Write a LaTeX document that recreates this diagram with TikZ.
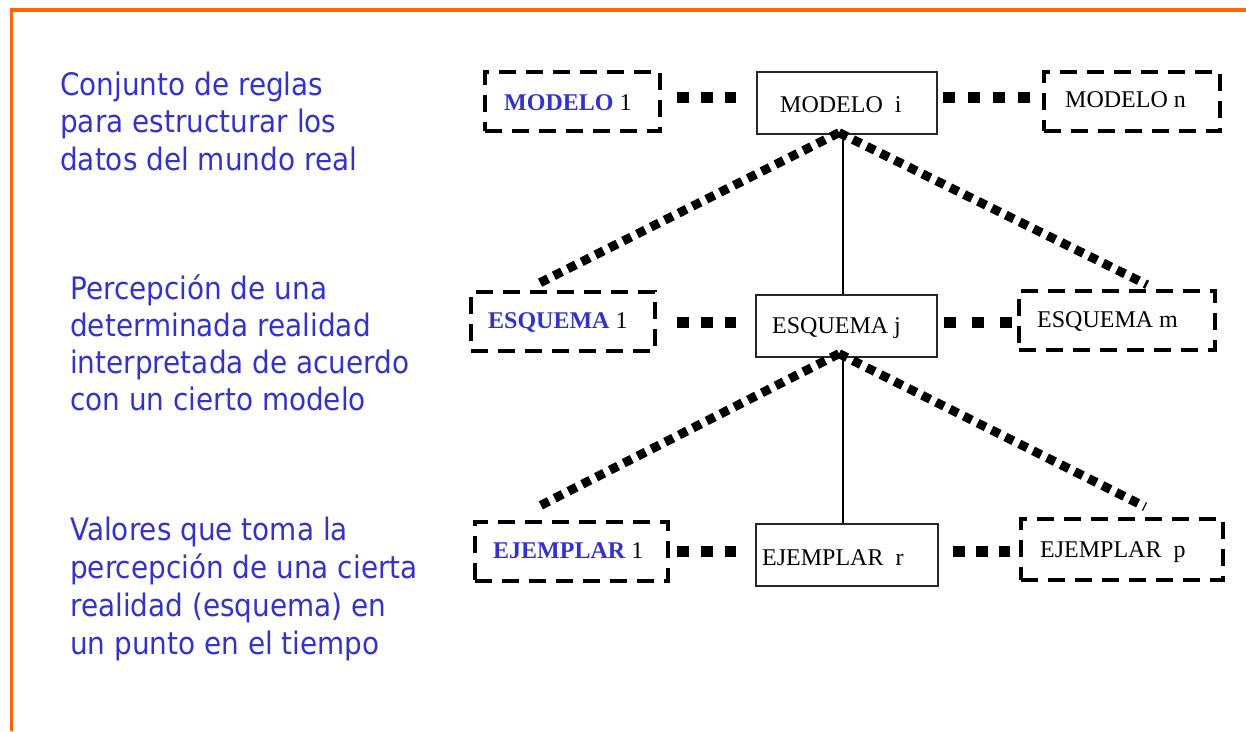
\documentclass[tikz,border=0pt]{standalone}
\usepackage{fontspec}
\setmainfont{Liberation Serif}
\newfontfamily\tahoma[FakeStretch=0.9]{DejaVu Sans}
\usetikzlibrary{calc}
\definecolor{txtblue}{RGB}{51,51,204}
\definecolor{frameorange}{RGB}{255,102,0}
\begin{document}
\begin{tikzpicture}[x=1pt,y=-1pt,
  solidbox/.style={draw=black!85, line width=1.3pt, inner sep=0pt},
  dashbox/.style={draw=black, line width=4.5pt, dash pattern=on 17pt off 10pt, inner sep=0pt},
  boxtext/.style={anchor=base west, inner sep=0pt, font=\fontsize{24}{28}\selectfont},
  sidetext/.style={anchor=base west, inner sep=0pt, text=txtblue},
  hdots/.style={line width=11pt, dash pattern=on 12pt off 12pt},
  ddots/.style={line width=9pt, dash pattern=on 9pt off 6.5pt},
  thin/.style={line width=1.2pt}]
\useasboundingbox (0,0) rectangle (1246,731);
\draw[frameorange, line width=3.5pt] (11.5,731) -- (11.5,10) -- (1246,10);

% side texts
\node[sidetext] (t1) at (60,95) {\tahoma\fontsize{31}{37.5}\selectfont
  \begin{tabular}[t]{@{}l@{}}Conjunto de reglas\\ para estructurar los\\ datos del mundo real\end{tabular}};
\node[sidetext] (t2) at (70,299) {\tahoma\fontsize{31}{37}\selectfont
  \begin{tabular}[t]{@{}l@{}}Percepción de una\\ determinada realidad\\ interpretada de acuerdo\\ con un cierto modelo\end{tabular}};
\node[sidetext] (t3) at (70,540) {\tahoma\fontsize{31}{38.3}\selectfont
  \begin{tabular}[t]{@{}l@{}}Valores que toma la\\ percepción de una cierta\\ realidad (esquema) en\\ un punto en el tiempo\end{tabular}};

% boxes
\node[dashbox, minimum width=175pt, minimum height=59pt] (m1) at (572.5,101.5) {};
\node[solidbox, minimum width=180pt, minimum height=62pt] (mi) at (847,103) {};
\node[dashbox, minimum width=176pt, minimum height=59pt] (mn) at (1132,101.5) {};
\node[dashbox, minimum width=184pt, minimum height=59pt] (e1) at (563,321.5) {};
\node[solidbox, minimum width=181pt, minimum height=62pt] (ej) at (846.5,326) {};
\node[dashbox, minimum width=196pt, minimum height=59pt] (em) at (1117,320.5) {};
\node[dashbox, minimum width=193pt, minimum height=59pt] (x1) at (571.5,551.5) {};
\node[solidbox, minimum width=182pt, minimum height=62pt] (xr) at (847,555) {};
\node[dashbox, minimum width=202pt, minimum height=61pt] (xp) at (1122,549.5) {};

% box texts
\node[boxtext] (m1t) at (504,110) {\textcolor{txtblue}{\textbf{MODELO}} 1};
\node[boxtext] (mit) at (780,112) {MODELO\ \ i};
\node[boxtext] (mnt) at (1065,107) {MODELO n};
\node[boxtext] (e1t) at (488,328) {\textcolor{txtblue}{\textbf{ESQUEMA}} 1};
\node[boxtext] (ejt) at (772,333) {ESQUEMA j};
\node[boxtext] (emt) at (1037,327) {ESQUEMA m};
\node[boxtext] (x1t) at (493,558) {\textcolor{txtblue}{\textbf{EJEMPLAR}} 1};
\node[boxtext] (xrt) at (762,565) {EJEMPLAR\ \ r};
\node[boxtext] (xpt) at (1040,557) {EJEMPLAR\ \ p};

% horizontal dotted connectors
\draw[hdots, shorten <=15pt, shorten >=20pt] ([yshift=4.5pt]m1.east) -- ([yshift=6pt]mi.west);
\draw[hdots, dash pattern=on 12pt off 13pt, shorten <=5pt, shorten >=12pt] ([yshift=6pt]mi.east) -- ([yshift=4.5pt]mn.west);
\draw[hdots, shorten <=20pt, shorten >=19pt] ([yshift=-0.5pt]e1.east) -- ([yshift=4pt]ej.west);
\draw[hdots, dash pattern=on 12pt off 16pt, shorten <=6pt, shorten >=5pt] ([yshift=4pt]ej.east) -- ([yshift=-1.5pt]em.west);
\draw[hdots, shorten <=7pt, shorten >=19pt] ([yshift=0.5pt]x1.east) -- ([yshift=4pt]xr.west);
\draw[hdots, dash pattern=on 12pt off 11pt, shorten <=14pt, shorten >=9pt] ([yshift=4pt]xr.east) -- ([yshift=-1.5pt]xp.west);

% vertical thin lines
\draw[thin] ([xshift=-4pt]mi.south) -- ([xshift=-4pt]mi.south |- ej.north);
\draw[thin] ([xshift=-3.5pt]ej.south) -- ([xshift=-3.5pt]ej.south |- xr.north);

% diagonal dotted lines
\draw[ddots] ([xshift=-8pt,yshift=2pt]mi.south) -- ([xshift=-27pt,yshift=5pt]e1.north);
\draw[ddots] ([xshift=-8pt,yshift=2pt]mi.south) -- ([xshift=30pt,yshift=4pt]em.north);
\draw[ddots] ([xshift=-7.5pt,yshift=4pt]ej.south) -- ([xshift=-33.5pt,yshift=13pt]x1.north);
\draw[ddots] ([xshift=-7.5pt,yshift=4pt]ej.south) -- ([xshift=23pt,yshift=10pt]xp.north);
\end{tikzpicture}
\end{document}
